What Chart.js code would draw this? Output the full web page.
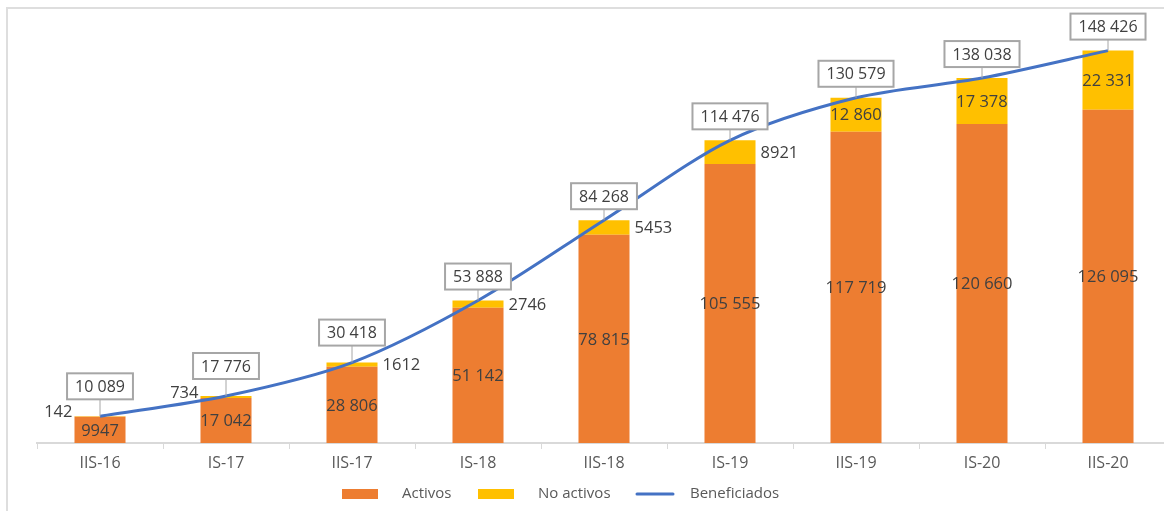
<!DOCTYPE html>
<html>
<head>
<meta charset="utf-8">
<script src="https://cdn.jsdelivr.net/npm/chart.js@4.4.1/dist/chart.umd.min.js"></script>
<style>
    html, body { margin: 0; padding: 0; background: #fff; overflow: hidden; }
    #frame { position: absolute; left: 6px; top: 7px; width: 1200px; height: 600px; border-left: 2px solid #dedede; border-top: 2px solid #dedede; }
    #wrap { position: absolute; left: 0; top: 0; width: 1180px; height: 511px; }
</style>
</head>
<body>
<div id="frame"></div>
<div id="wrap"><canvas id="chart"></canvas></div>
<script>
// Data
const periods = ['IIS-16', 'IS-17', 'IIS-17', 'IS-18', 'IIS-18', 'IS-19', 'IIS-19', 'IS-20', 'IIS-20'];
const activos = [9947, 17042, 28806, 51142, 78815, 105555, 117719, 120660, 126095];
const noActivos = [142, 734, 1612, 2746, 5453, 8921, 12860, 17378, 22331];
const beneficiados = [10089, 17776, 30418, 53888, 84268, 114476, 130579, 138038, 148426];

// where each "No activos" label sits relative to its segment
const noActivosPlace = ['left', 'left', 'right', 'right', 'right', 'right', 'center', 'center', 'center'];

const ORANGE = '#ED7D31';
const YELLOW = '#FFC000';
const BLUE = '#4472C4';
const TEXT = '#404040';
const AXIS_TEXT = '#595959';
const FONT = '"Open Sans", "Noto Sans", sans-serif';

const fmt = (v) => v >= 10000 ? String(v).replace(/\B(?=(\d{3})+(?!\d))/g, ' ') : String(v);

// labels on bars and boxed labels on the line
const labelPlugin = {
    id: 'labels',
    afterDatasetsDraw(chart) {
        const ctx = chart.ctx;
        ctx.save();
        ctx.font = '16.5px ' + FONT;
        ctx.fillStyle = TEXT;
        ctx.textBaseline = 'middle';

        const mA = chart.getDatasetMeta(0);
        const mN = chart.getDatasetMeta(1);
        const mL = chart.getDatasetMeta(2);

        mA.data.forEach((bar, i) => {
            ctx.textAlign = 'center';
            ctx.fillText(fmt(activos[i]), bar.x, (bar.y + bar.base) / 2 + 1);
        });

        mN.data.forEach((bar, i) => {
            const cy = (bar.y + bar.base) / 2;
            const half = bar.width / 2;
            const place = noActivosPlace[i];
            if (place === 'left') {
                ctx.textAlign = 'right';
                ctx.fillText(fmt(noActivos[i]), bar.x - half - 2, cy - 4);
            } else if (place === 'right') {
                ctx.textAlign = 'left';
                ctx.fillText(fmt(noActivos[i]), bar.x + half + 5, cy + 1);
            } else {
                ctx.textAlign = 'center';
                ctx.fillText(fmt(noActivos[i]), bar.x, cy + 1);
            }
        });

        ctx.font = '16px ' + FONT;
        mL.data.forEach((pt, i) => {
            const txt = fmt(beneficiados[i]);
            const w = ctx.measureText(txt).width + 16;
            const h = 26;
            const cy = pt.y - (i < 3 ? 30 : 24);
            const bx = pt.x - w / 2;
            const by = cy - h / 2;
            ctx.strokeStyle = '#a6a6a6';
            ctx.lineWidth = 1;
            ctx.beginPath();
            ctx.moveTo(pt.x, by + h);
            ctx.lineTo(pt.x, pt.y);
            ctx.stroke();
            ctx.fillStyle = '#fff';
            ctx.fillRect(bx, by, w, h);
            ctx.lineWidth = 2;
            ctx.strokeRect(bx, by, w, h);
            ctx.fillStyle = TEXT;
            ctx.textAlign = 'center';
            ctx.fillText(txt, pt.x, cy + 1);
        });

        // legend
        const ly = 494;
        ctx.font = '15px ' + FONT;
        ctx.textAlign = 'left';
        ctx.fillStyle = ORANGE;
        ctx.fillRect(342, ly - 5, 36, 10);
        ctx.fillStyle = YELLOW;
        ctx.fillRect(478, ly - 5, 36, 10);
        ctx.strokeStyle = BLUE;
        ctx.lineWidth = 3;
        ctx.lineCap = 'round';
        ctx.beginPath();
        ctx.moveTo(637, ly);
        ctx.lineTo(673, ly);
        ctx.stroke();
        ctx.fillStyle = AXIS_TEXT;
        ctx.fillText('Activos', 402, ly);
        ctx.fillText('No activos', 538, ly);
        ctx.fillText('Beneficiados', 690, ly);
        ctx.restore();
    }
};

new Chart(document.getElementById('chart'), {
    data: {
        labels: periods,
        datasets: [
            { type: 'bar', label: 'Activos', data: activos, backgroundColor: ORANGE, stack: 'bars', order: 2 },
            { type: 'bar', label: 'No activos', data: noActivos, backgroundColor: YELLOW, stack: 'bars', order: 2 },
            {
                type: 'line', label: 'Beneficiados', data: beneficiados, borderColor: BLUE, backgroundColor: BLUE,
                borderWidth: 3, pointRadius: 0, tension: 0.3, stack: 'line', order: 1
            }
        ]
    },
    options: {
        responsive: true,
        maintainAspectRatio: false,
        animation: false,
        layout: { padding: { top: 20, left: 37, right: 9, bottom: 0 } },
        datasets: { bar: { categoryPercentage: 1, barPercentage: 0.405 } },
        plugins: { legend: { display: false }, tooltip: { enabled: false } },
        scales: {
            x: {
                stacked: true,
                grid: { drawOnChartArea: false, tickLength: 6, color: '#d9d9d9', offset: true },
                border: { color: '#d9d9d9', width: 2 },
                ticks: { color: AXIS_TEXT, font: { size: 16, family: FONT }, padding: 5, maxRotation: 0 },
                afterFit: (s) => { s.height = 68; }
            },
            y: { stacked: true, display: false, min: 0, max: 160000 }
        }
    },
    plugins: [labelPlugin]
});
</script>
</body>
</html>
